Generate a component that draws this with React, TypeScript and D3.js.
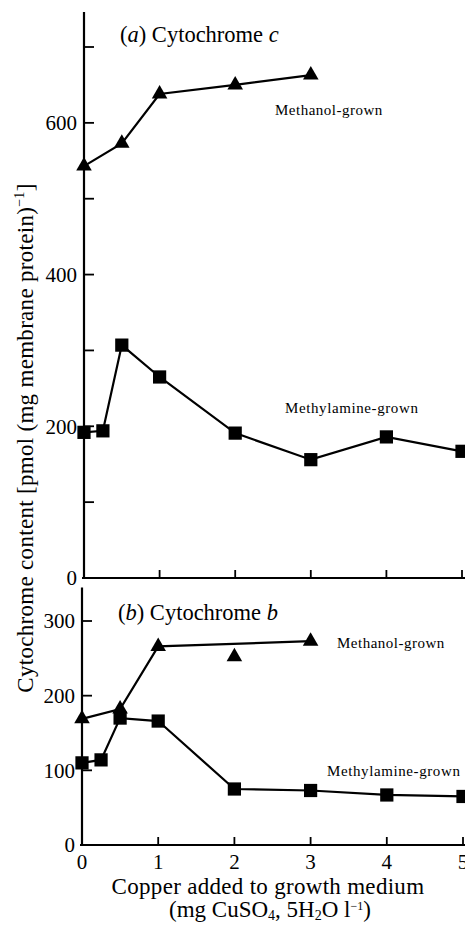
import React from "react";
import * as d3 from "d3";

// ---- Data ----
const copperX = [0, 0.25, 0.5, 1, 2, 3, 4, 5];
const xTicks = [0, 1, 2, 3, 4, 5];

// (a) Cytochrome c
const aMethanolX = [0, 0.5, 1, 2, 3];
const aMethanol = [543, 573, 638, 650, 663];
const aMethylamine = [192, 194, 307, 265, 191, 156, 186, 167];
const aYTicks = [0, 100, 200, 300, 400, 500, 600, 700];
const aYLabels = [0, 200, 400, 600];

// (b) Cytochrome b
const bMethanolX = [0, 0.5, 1, 2, 3];
const bMethanol = [169, 182, 266, 252, 273];
const bMethanolOnLine = [true, true, true, false, true];
const bMethylamine = [110, 114, 170, 166, 75, 73, 67, 65];
const bYTicks = [0, 100, 200, 300];
const bYLabels = [0, 100, 200, 300];

const FONT = "'Liberation Serif', 'DejaVu Serif', serif";

export default function App() {
  const W = 465, H = 925;

  const xA = d3.scaleLinear().domain([0, 5]).range([84, 462]);
  const yA = d3.scaleLinear().domain([0, 700]).range([578, 47]);
  const xB = d3.scaleLinear().domain([0, 5]).range([82, 463]);
  const yB = d3.scaleLinear().domain([0, 300]).range([845, 621]);

  const tri = d3.symbol().type(d3.symbolTriangle).size(105)()!;
  const sq = d3.symbol().type(d3.symbolSquare).size(175)()!;

  const lineA = d3.line<[number, number]>().x(d => xA(d[0])).y(d => yA(d[1]));
  const lineB = d3.line<[number, number]>().x(d => xB(d[0])).y(d => yB(d[1]));

  const aMeth: [number, number][] = aMethanolX.map((x, i) => [x, aMethanol[i]]);
  const aAmine: [number, number][] = copperX.map((x, i) => [x, aMethylamine[i]]);
  const bMeth: [number, number][] = bMethanolX.map((x, i) => [x, bMethanol[i]]);
  const bMethLine = bMeth.filter((_, i) => bMethanolOnLine[i]);
  const bAmine: [number, number][] = copperX.map((x, i) => [x, bMethylamine[i]]);

  const sw = 2.2;
  const tickFs = 21;
  const titleFs = 22.5;
  const axisFs = 23;
  const seriesFs = 15;

  return (
    <svg width={W} height={H} style={{ position: "absolute", left: 0, top: 0, background: "#fff" }}
      fontFamily={FONT}>
      <rect width={W} height={H} fill="#fff" />

      {/* ---- Panel (a) ---- */}
      <line x1={xA(0)} x2={xA(0)} y1={yA(746)} y2={yA(0)} stroke="#000" strokeWidth={sw} />
      <line x1={xA(0) - 2} x2={W} y1={yA(0)} y2={yA(0)} stroke="#000" strokeWidth={sw} />
      {aYTicks.filter(t => t > 0).map(t => (
        <line key={t} x1={xA(0)} x2={xA(0) + 10} y1={yA(t)} y2={yA(t)} stroke="#000" strokeWidth={1.8} />
      ))}
      {aYLabels.map(t => (
        <text key={t} x={xA(0) - 7} y={yA(t)} dy="0.35em" textAnchor="end" fontSize={tickFs}>{t}</text>
      ))}
      {xTicks.filter(t => t > 0).map(t => (
        <line key={t} x1={xA(t)} x2={xA(t)} y1={yA(0)} y2={yA(0) - 8} stroke="#000" strokeWidth={1.8} />
      ))}
      <text x={120} y={42} fontSize={titleFs}>
        (<tspan fontStyle="italic">a</tspan>) Cytochrome <tspan fontStyle="italic">c</tspan>
      </text>
      <path d={lineA(aMeth)!} fill="none" stroke="#000" strokeWidth={sw} />
      {aMeth.map((d, i) => (
        <path key={i} d={tri} transform={`translate(${xA(d[0])},${yA(d[1])})`} fill="#000" />
      ))}
      <path d={lineA(aAmine)!} fill="none" stroke="#000" strokeWidth={sw} />
      {aAmine.map((d, i) => (
        <path key={i} d={sq} transform={`translate(${xA(d[0])},${yA(d[1])})`} fill="#000" />
      ))}
      <text x={275} y={115} fontSize={seriesFs} letterSpacing={0.5}>Methanol-grown</text>
      <text x={285} y={413} fontSize={seriesFs} letterSpacing={0.6}>Methylamine-grown</text>

      {/* ---- Panel (b) ---- */}
      <line x1={xB(0)} x2={xB(0)} y1={yB(345)} y2={yB(0)} stroke="#000" strokeWidth={sw} />
      <line x1={xB(0) - 2} x2={W} y1={yB(0)} y2={yB(0)} stroke="#000" strokeWidth={sw} />
      {bYTicks.filter(t => t > 0).map(t => (
        <line key={t} x1={xB(0)} x2={xB(0) + 10} y1={yB(t)} y2={yB(t)} stroke="#000" strokeWidth={1.8} />
      ))}
      {bYLabels.map(t => (
        <text key={t} x={xB(0) - 7} y={yB(t)} dy="0.35em" textAnchor="end" fontSize={tickFs}>{t}</text>
      ))}
      {xTicks.filter(t => t > 0).map(t => (
        <line key={t} x1={xB(t)} x2={xB(t)} y1={yB(0)} y2={yB(0) - 8} stroke="#000" strokeWidth={1.8} />
      ))}
      {xTicks.map(t => (
        <text key={t} x={xB(t)} y={869} textAnchor="middle" fontSize={tickFs}>{t}</text>
      ))}
      <text x={118} y={620} fontSize={titleFs}>
        (<tspan fontStyle="italic">b</tspan>) Cytochrome <tspan fontStyle="italic">b</tspan>
      </text>
      <path d={lineB(bMethLine)!} fill="none" stroke="#000" strokeWidth={sw} />
      {bMeth.map((d, i) => (
        <path key={i} d={tri} transform={`translate(${xB(d[0])},${yB(d[1])})`} fill="#000" />
      ))}
      <path d={lineB(bAmine)!} fill="none" stroke="#000" strokeWidth={sw} />
      {bAmine.map((d, i) => (
        <path key={i} d={sq} transform={`translate(${xB(d[0])},${yB(d[1])})`} fill="#000" />
      ))}
      <text x={337} y={648} fontSize={seriesFs} letterSpacing={0.5}>Methanol-grown</text>
      <text x={327} y={776} fontSize={seriesFs} letterSpacing={0.6}>Methylamine-grown</text>

      {/* ---- Axis titles ---- */}
      <text x={268} y={894} textAnchor="middle" fontSize={axisFs} letterSpacing={0.3}>Copper added to growth medium</text>
      <text x={270} y={917} textAnchor="middle" fontSize={axisFs}>
        (mg CuSO<tspan fontSize={14} dy={3}>4</tspan><tspan dy={-3}>, 5H</tspan>
        <tspan fontSize={14} dy={3}>2</tspan><tspan dy={-3}>O l</tspan>
        <tspan fontSize={12} dy={-7}>−1</tspan><tspan dy={7}>)</tspan>
      </text>
      <text transform={`translate(33,438) rotate(-90)`} textAnchor="middle" fontSize={axisFs} letterSpacing={0.3}>
        Cytochrome content [pmol (mg membrane protein)<tspan fontSize={14} dy={-9}>−1</tspan><tspan dy={9}>]</tspan>
      </text>
    </svg>
  );
}
